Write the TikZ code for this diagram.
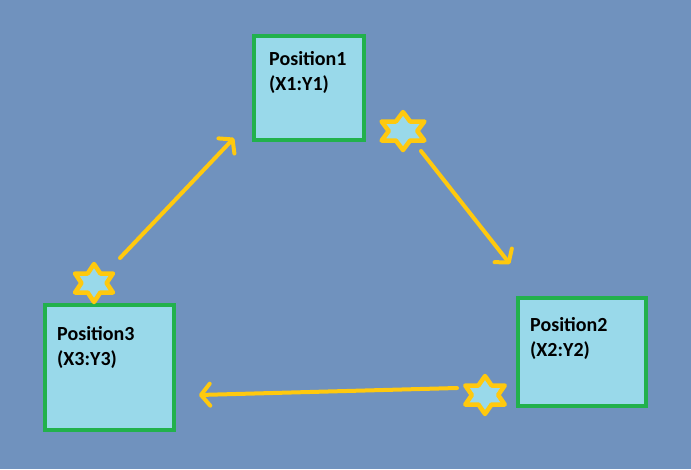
\documentclass[tikz,border=0pt]{standalone}
\usepackage{fontspec}
\setmainfont{Carlito}
\usetikzlibrary{arrows.meta}
\definecolor{bgblue}{RGB}{112,146,190}
\definecolor{boxfill}{RGB}{153,217,234}
\definecolor{boxgreen}{RGB}{34,177,76}
\definecolor{gold}{RGB}{255,201,14}
\tikzset{
  posbox/.style={draw=boxgreen, fill=boxfill, line width=4pt, rectangle, inner sep=0pt},
  postext/.style={anchor=base west, inner sep=0pt, font=\bfseries\fontsize{20}{25}\selectfont, align=left, text=black},
  conn/.style={draw=gold, line width=4pt, line cap=round, -{Straight Barb[length=9pt, width=22pt, line width=4pt, round]}},
  hexstar/.pic={
    \draw[draw=gold, fill=boxfill, line width=4.5pt, line join=round]
      (90:19) -- (120:10.97) -- (150:19) -- (180:10.97) -- (210:19) -- (240:10.97)
      -- (270:19) -- (300:10.97) -- (330:19) -- (0:10.97) -- (30:19) -- (60:10.97) -- cycle;
  }
}
\begin{document}
\begin{tikzpicture}[x=1pt, y=-1pt]
\fill[bgblue] (0,0) rectangle (691,469);
\useasboundingbox (0,0) rectangle (691,469);

% boxes
\node[posbox, minimum width=110pt, minimum height=104pt] (b1) at (309,88) {};
\node[posbox, minimum width=128pt, minimum height=108pt] (b2) at (582,352) {};
\node[posbox, minimum width=129pt, minimum height=125pt] (b3) at (109.5,367.5) {};

\node[postext] (t1) at (269,90) {Position1\\(X1:Y1)};
\node[postext] (t2) at (530,356) {Position2\\(X2:Y2)};
\node[postext] (t3) at (57,365) {Position3\\(X3:Y3)};

% stars
\pic[xscale=1.3] at (403,131) {hexstar};
\pic[xscale=1.15] at (94,283) {hexstar};
\pic[xscale=1.2] at (485,395) {hexstar};

% connector ends
\coordinate (s1) at (120,258);
\coordinate (e1) at (234,138);
\coordinate (s2) at (421,151);
\coordinate (e2) at (510,264);
\coordinate (s3) at (457,388);
\coordinate (e3) at (199,395);

\draw[conn] (s1) -- (e1);
\draw[conn] (s2) -- (e2);
\draw[conn] (s3) -- (e3);
\end{tikzpicture}
\end{document}
